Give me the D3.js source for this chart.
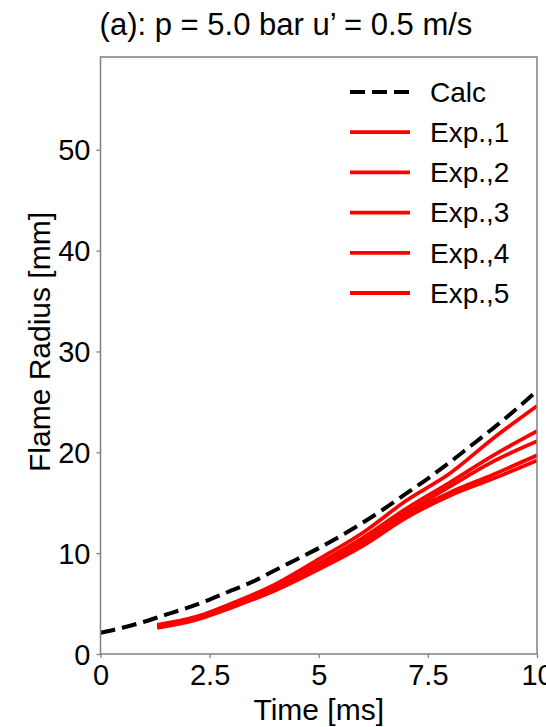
<!DOCTYPE html>
<html>
<head>
<meta charset="utf-8">
<script src="https://cdn.jsdelivr.net/npm/d3@7"></script>
<style>
  body { margin: 0; background: #fff; }
  svg text { font-family: "Liberation Sans", Arial, sans-serif; fill: #000; }
</style>
</head>
<body>
<div id="wrapper"></div>
<script>
// values
const calcTime = [0, 0.5, 1, 1.5, 2, 2.5, 3, 3.5, 4, 4.5, 5, 5.5, 6, 6.5, 7, 7.5, 8, 8.5, 9, 9.5, 10]
const calcRadius = [2.1, 2.6, 3.2, 3.9, 4.6, 5.4, 6.3, 7.2, 8.3, 9.4, 10.5, 11.7, 13.0, 14.4, 15.9, 17.4, 19.0, 20.7, 22.4, 24.2, 26.1]

const expTime = [1.3, 2.2, 3, 4, 5, 6, 7, 8, 9, 10]
const exp1 = [2.9, 3.7, 5.0, 6.9, 9.4, 12.0, 15.2, 17.9, 21.4, 24.6]
const exp2 = [2.8, 3.6, 4.9, 6.7, 9.0, 11.5, 14.4, 17.0, 19.7, 22.1]
const exp3 = [2.7, 3.5, 4.8, 6.6, 8.8, 11.2, 14.0, 16.6, 19.1, 21.1]
const exp4 = [2.7, 3.5, 4.7, 6.4, 8.6, 11.0, 13.8, 16.0, 17.8, 19.7]
const exp5 = [2.6, 3.4, 4.6, 6.3, 8.4, 10.7, 13.5, 15.7, 17.4, 19.2]

const seriesNames = ["Calc", "Exp.,1", "Exp.,2", "Exp.,3", "Exp.,4", "Exp.,5"]
const xTicks = [0, 2.5, 5, 7.5, 10]
const xTickLabels = ["0", "2.5", "5", "7.5", "10"]
const yTicks = [0, 10, 20, 30, 40, 50]

const titleText = "(a): p = 5.0 bar u\u2019 = 0.5 m/s"

function drawChart() {
  const dms = {
    width: 546,
    height: 727,
    margins: { top: 57, right: 9, bottom: 73, left: 100.5 }
  }
  dms.boundedWidth = dms.width - dms.margins.left - dms.margins.right
  dms.boundedHeight = dms.height - dms.margins.top - dms.margins.bottom

  const wrapper = d3.select("#wrapper")
    .append("svg")
    .attr("width", dms.width)
    .attr("height", dms.height)
    .style("overflow", "hidden")

  const bounds = wrapper.append("g")
    .attr("transform", `translate(${dms.margins.left},${dms.margins.top})`)

  const xScale = d3.scaleLinear()
    .domain([0, 10])
    .range([0, dms.boundedWidth])

  const yScale = d3.scaleLinear()
    .domain([0, 59.2])
    .range([dms.boundedHeight, 0])

  const lineGen = d3.line()
    .x(d => xScale(d[0]))
    .y(d => yScale(d[1]))
    .curve(d3.curveMonotoneX)

  bounds.append("clipPath").attr("id", "plotclip")
    .append("rect")
    .attr("width", dms.boundedWidth)
    .attr("height", dms.boundedHeight)

  const plot = bounds.append("g").attr("clip-path", "url(#plotclip)")

  // calc curve
  plot.append("path")
    .attr("d", lineGen(d3.zip(calcTime, calcRadius)))
    .attr("fill", "none")
    .attr("stroke", "#000")
    .attr("stroke-width", 4)
    .attr("stroke-dasharray", "15,7")

  const expSeries = [exp1, exp2, exp3, exp4, exp5]
  expSeries.forEach(s => {
    plot.append("path")
      .attr("d", lineGen(d3.zip(expTime, s)))
      .attr("fill", "none")
      .attr("stroke", "#ff0000")
      .attr("stroke-width", 3.8)
      .attr("stroke-linejoin", "round")
  })

  // axes
  const axisColor = "#808080"

  const xAxis = bounds.append("g")
    .attr("transform", `translate(0,${dms.boundedHeight})`)
    .call(d3.axisBottom(xScale)
      .tickValues(xTicks)
      .tickFormat((d, i) => xTickLabels[i])
      .tickSizeInner(4)
      .tickSizeOuter(0)
      .tickPadding(6))

  const yAxis = bounds.append("g")
    .call(d3.axisLeft(yScale)
      .tickValues(yTicks)
      .tickSizeInner(4)
      .tickSizeOuter(0)
      .tickPadding(6))

  ;[xAxis, yAxis].forEach(a => {
    a.select(".domain").remove()
    a.selectAll(".tick line").attr("stroke", axisColor).attr("stroke-width", 1.3)
    a.selectAll(".tick text")
      .attr("font-size", 29)
      .attr("fill", "#000")
  })
  yAxis.selectAll(".tick text").attr("dy", "0.35em")

  // frame
  bounds.append("rect")
    .attr("width", dms.boundedWidth)
    .attr("height", dms.boundedHeight)
    .attr("fill", "none")
    .attr("stroke", axisColor)
    .attr("stroke-width", 1.5)

  // labels
  wrapper.append("text")
    .attr("x", dms.margins.left + dms.boundedWidth / 2)
    .attr("y", 720)
    .attr("text-anchor", "middle")
    .attr("font-size", 30)
    .text("Time [ms]")

  wrapper.append("text")
    .attr("transform", "translate(50,342) rotate(-90)")
    .attr("text-anchor", "middle")
    .attr("font-size", 30)
    .text("Flame Radius [mm]")

  wrapper.append("text")
    .attr("x", 286)
    .attr("y", 35)
    .attr("text-anchor", "middle")
    .attr("font-size", 31)
    .text(titleText)

  // legend
  const legend = wrapper.append("g")
    .attr("transform", "translate(350,92)")

  seriesNames.forEach((name, i) => {
    const row = legend.append("g").attr("transform", `translate(0,${i * 40.2})`)
    row.append("line")
      .attr("x1", 0).attr("x2", 60)
      .attr("stroke", i === 0 ? "#000" : "#ff0000")
      .attr("stroke-width", i === 0 ? 4 : 3.8)
      .attr("stroke-dasharray", i === 0 ? "15,7" : null)
    row.append("text")
      .attr("x", 80)
      .attr("dy", "0.35em")
      .attr("font-size", 28)
      .text(name)
  })
}

drawChart()
</script>
</body>
</html>
